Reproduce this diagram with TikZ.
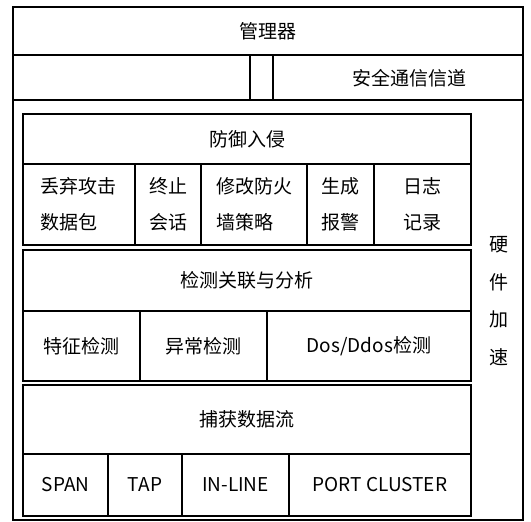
\documentclass[tikz,border=0pt]{standalone}
\usepackage{fontspec}
\setmainfont{Noto Sans CJK SC}
\begin{document}
\begin{tikzpicture}[x=1pt,y=-1pt,
  box/.style={draw, line width=1.2pt, inner sep=0pt, outer sep=0pt, anchor=north west,
    align=left, font=\fontsize{19}{36}\selectfont},
  txt/.style={inner sep=0pt, align=center, font=\fontsize{19}{37.5}\selectfont}]
\useasboundingbox (0,0) rectangle (531,522);

\node[box, minimum width=510pt, minimum height=513pt] (frame) at (13,7) {};
\node[box, minimum width=510pt, minimum height=48pt] (mgr) at (13,7) {管理器};

\node[box, minimum width=237pt, minimum height=45pt] (chl) at (13,55) {};
\node[box, minimum width=23pt, minimum height=45pt] (chm) at (250,55) {};
\node[box, minimum width=250pt, minimum height=45pt] (chr) at (273,55) {};
\node[txt] (chan) at (409,78) {安全通信信道};

\node[box, minimum width=448pt, minimum height=50pt] (def) at (23,114) {防御入侵};
\node[box, minimum width=112pt, minimum height=81pt] (drop) at (23,164) {丢弃攻击\\数据包};
\node[box, minimum width=66pt, minimum height=81pt] (stop) at (135,164) {终止\\会话};
\node[box, minimum width=106pt, minimum height=81pt] (fw) at (201,164) {修改防火\\墙策略};
\node[box, minimum width=67pt, minimum height=81pt] (alarm) at (307,164) {生成\\报警};
\node[box, minimum width=97pt, minimum height=81pt] (log) at (374,164) {日志\\记录};

\node[box, minimum width=448pt, minimum height=61pt] (ana) at (23,250) {检测关联与分析};
\node[box, minimum width=117pt, minimum height=70pt] (sig) at (23,311) {特征检测};
\node[box, minimum width=127pt, minimum height=70pt] (anom) at (140,311) {异常检测};
\node[box, minimum width=204pt, minimum height=70pt] (dos) at (267,311) {Dos/Ddos检测};

\node[box, minimum width=448pt, minimum height=69pt] (cap) at (23,385) {捕获数据流};
\node[box, minimum width=85pt, minimum height=62pt] (span) at (23,454) {SPAN};
\node[box, minimum width=74pt, minimum height=62pt] (tap) at (108,454) {TAP};
\node[box, minimum width=107pt, minimum height=62pt] (inl) at (182,454) {IN-LINE};
\node[box, minimum width=182pt, minimum height=62pt] (port) at (289,454) {PORT CLUSTER};

\node[txt] (hw) at (499,301) {硬\\件\\加\\速};
\end{tikzpicture}
\end{document}
